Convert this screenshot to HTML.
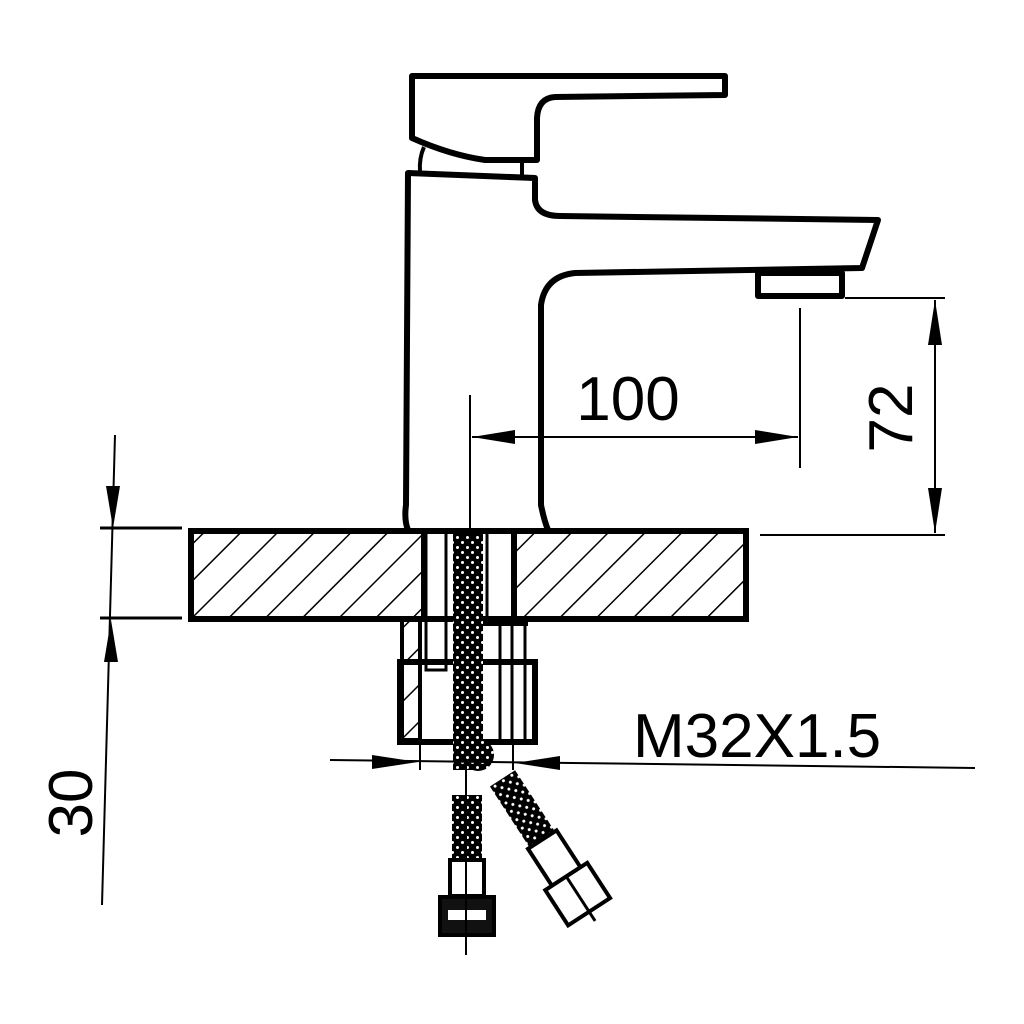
<!DOCTYPE html>
<html><head><meta charset="utf-8"><style>html,body{margin:0;padding:0;background:#fff}svg{display:block}</style></head>
<body>
<svg width="1024" height="1024" viewBox="0 0 1024 1024" xmlns="http://www.w3.org/2000/svg">
<defs>
<pattern id="h" patternUnits="userSpaceOnUse" width="26" height="26" patternTransform="rotate(45)">
<rect width="26" height="26" fill="#fff"/><line x1="0" y1="0" x2="0" y2="26" stroke="#000" stroke-width="3"/>
</pattern>
<pattern id="d" patternUnits="userSpaceOnUse" width="10" height="10">
<rect width="10" height="10" fill="#000"/><circle cx="2.5" cy="2.5" r="1.5" fill="#fff"/><circle cx="7.5" cy="7.5" r="1.5" fill="#fff"/>
</pattern>
</defs>
<g fill="none" stroke="#000" stroke-width="6" stroke-linejoin="round">
<path d="M412,76 L725,76 L725,95 L555,97 Q538,98 537,118 L537,160 L485,160 Q450,155 412,138 Z"/>
<path d="M424,147 Q419,158 420,172" stroke-width="4"/>
<path d="M522,162 L522,176" stroke-width="4"/>
<path d="M408,530 Q404,520 406,505 L408,173 L535,178 L535,200 Q537,216 560,216 L878,220 L862,268 L575,273 Q545,276 541,305 L541,505 Q544,520 548,530"/>
<rect x="758" y="273" width="84" height="23"/>
</g>
<rect x="191" y="531" width="555" height="88" fill="url(#h)" stroke="#000" stroke-width="6"/>
<rect x="422" y="534" width="94" height="82" fill="#fff"/>
<g stroke="#000" fill="none">
<line x1="424" y1="531" x2="424" y2="619" stroke-width="6"/>
<line x1="514" y1="531" x2="514" y2="619" stroke-width="6"/>
<path d="M426,534 L426,670 L446,670 L446,534" stroke-width="3"/>
<line x1="487" y1="534" x2="487" y2="619" stroke-width="3"/>
<rect x="402" y="620" width="18" height="120" fill="url(#h)" stroke-width="4"/>
<rect x="400" y="662" width="135" height="80" fill="none" stroke-width="6"/>
<line x1="470" y1="624" x2="528" y2="624" stroke-width="4"/>
<line x1="470" y1="620" x2="470" y2="742" stroke-width="3"/>
<line x1="500" y1="624" x2="500" y2="742" stroke-width="3"/>
<line x1="512" y1="624" x2="512" y2="742" stroke-width="3"/>
<line x1="525" y1="624" x2="525" y2="742" stroke-width="3"/>
</g>
<rect x="453" y="534" width="30" height="236" fill="url(#d)"/>
<circle cx="478" cy="755" r="16" fill="url(#d)"/>
<rect x="452" y="795" width="30" height="100" fill="url(#d)"/>
<g stroke="#000" stroke-width="4" fill="#fff">
<rect x="450" y="860" width="34" height="36"/>
<rect x="440" y="897" width="54" height="38" fill="#111"/>
<rect x="448" y="910" width="38" height="10" fill="#fff" stroke="none"/>
</g>
<g transform="rotate(-33 500 780)">
<rect x="488" y="780" width="30" height="75" fill="url(#d)"/>
<rect x="486" y="853" width="34" height="44" fill="#fff" stroke="#000" stroke-width="4"/>
<rect x="478" y="897" width="50" height="42" fill="#fff" stroke="#000" stroke-width="4"/>
<line x1="503" y1="897" x2="503" y2="950" stroke="#000" stroke-width="3"/>
</g>
<line x1="466" y1="760" x2="466" y2="955" stroke="#000" stroke-width="2"/>
<g stroke="#000" stroke-width="2" fill="none">
<line x1="470" y1="395" x2="470" y2="530"/>
<line x1="800" y1="308" x2="800" y2="468"/>
<line x1="472" y1="437" x2="798" y2="437"/>
<line x1="845" y1="298" x2="945" y2="298"/>
<line x1="760" y1="535" x2="945" y2="535"/>
<line x1="935" y1="300" x2="935" y2="533"/>
<line x1="100" y1="528" x2="182" y2="528" stroke-width="3"/>
<line x1="100" y1="618" x2="182" y2="618" stroke-width="3"/>
<line x1="115" y1="435" x2="102" y2="905"/>
<line x1="330" y1="760" x2="975" y2="768"/>
<line x1="420" y1="742" x2="420" y2="770"/>
<line x1="513" y1="742" x2="513" y2="770"/>
</g>
<g fill="#000">
<polygon points="472,437 515,430 515,444"/>
<polygon points="798,437 755,430 755,444"/>
<polygon points="935,300 928,345 942,345"/>
<polygon points="935,533 928,488 942,488"/>
<polygon points="113,528 106,486 120,486"/>
<polygon points="111,620 104,662 118,662"/>
<polygon points="418,762 372,755 372,769"/>
<polygon points="515,763 560,756 560,770"/>
</g>
<g font-family="Liberation Sans, sans-serif" fill="#000">
<text x="628" y="420" font-size="62" text-anchor="middle">100</text>
<text x="0" y="0" font-size="62" text-anchor="middle" transform="translate(912,418) rotate(-90)">72</text>
<text x="0" y="0" font-size="62" text-anchor="middle" transform="translate(92,803) rotate(-90)">30</text>
<text x="633" y="757" font-size="62">M32X1.5</text>
</g>
</svg>
</body></html>
